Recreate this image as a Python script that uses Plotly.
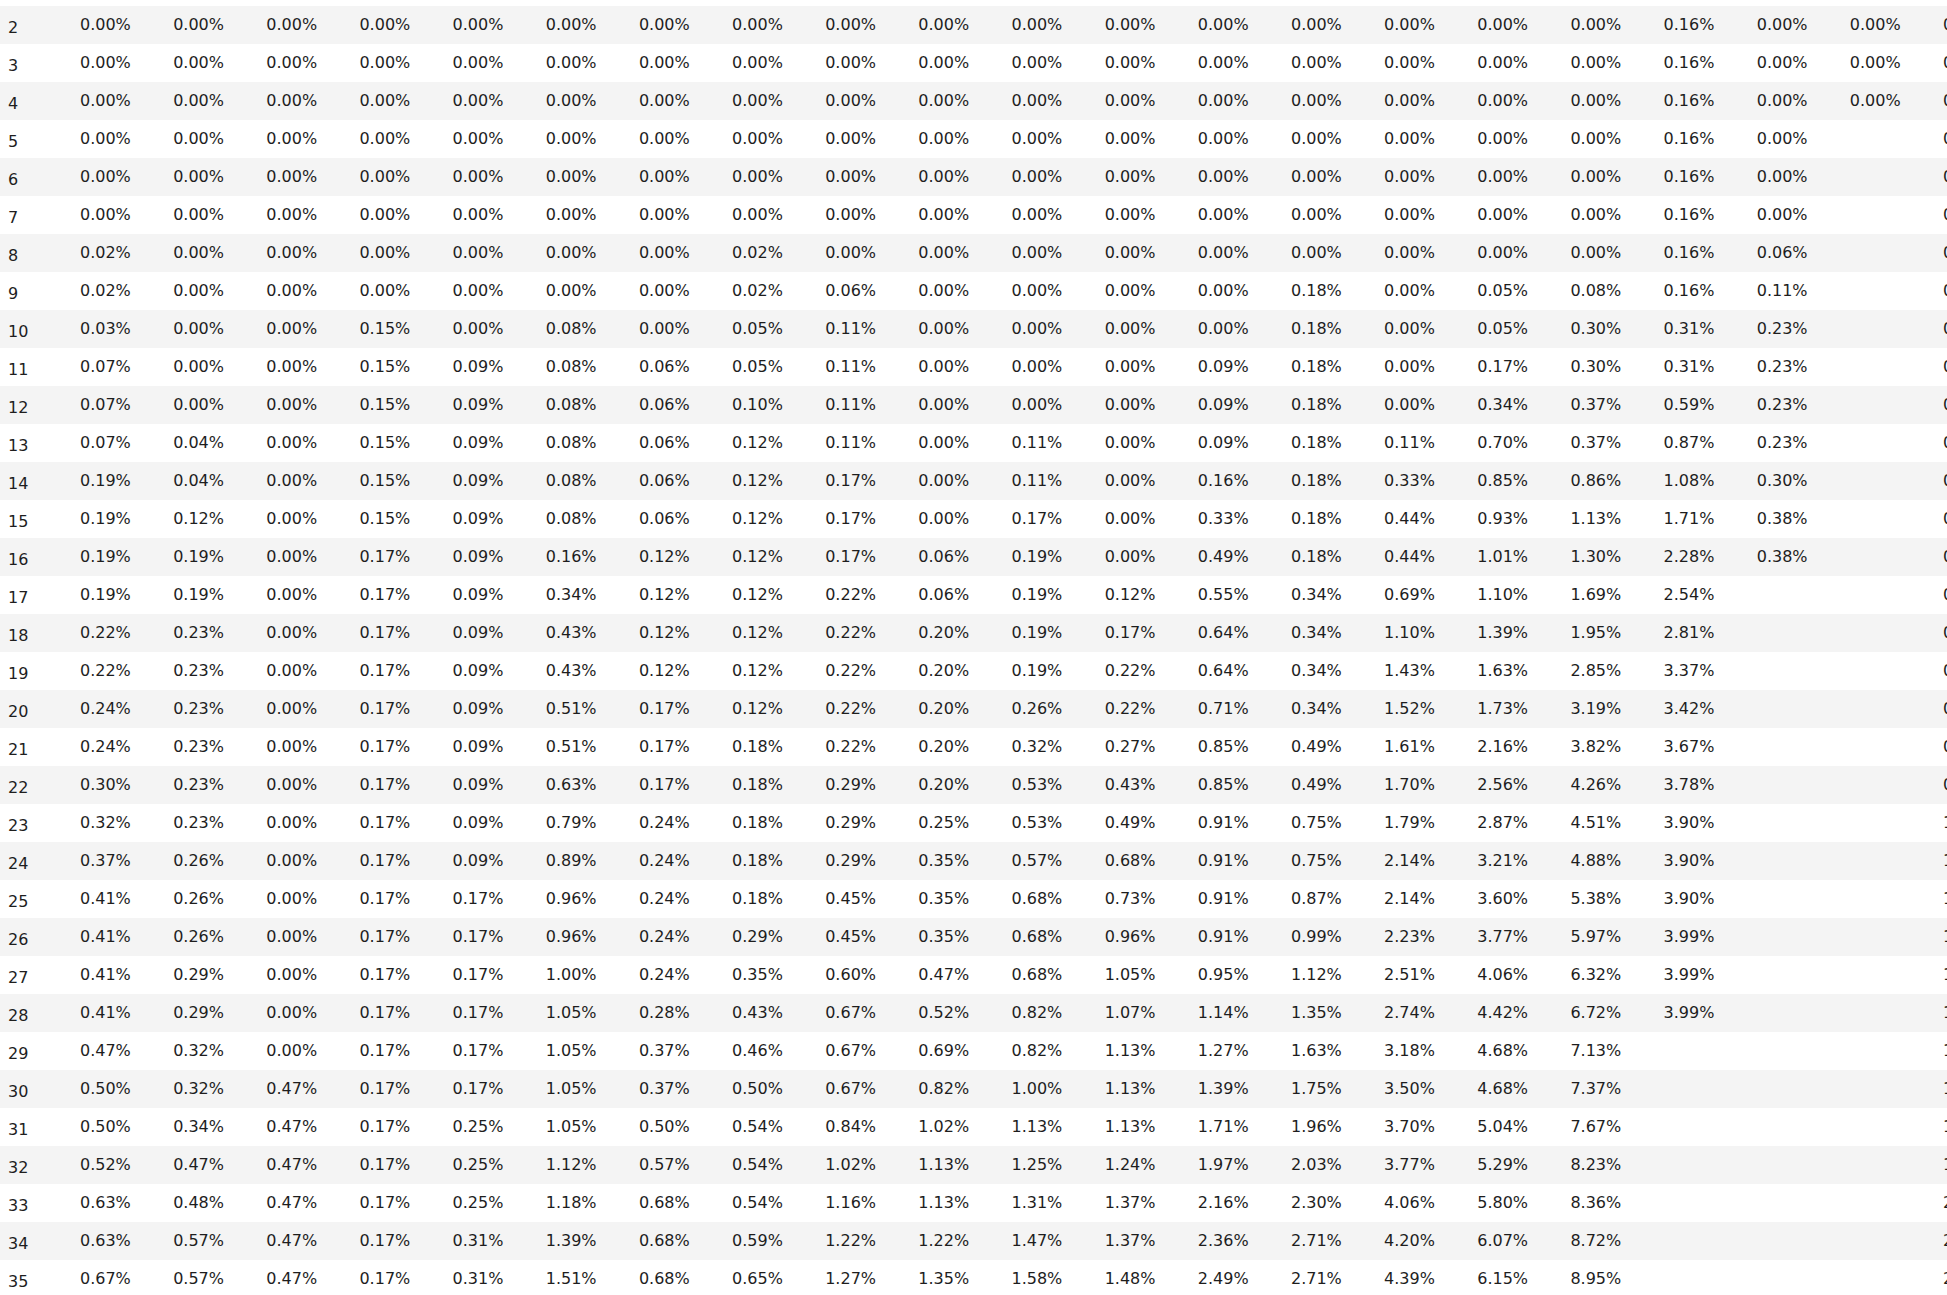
import plotly.graph_objects as go

# Row labels (week index)
row_labels = list(range(2, 36))

# Cumulative rate columns (percent values), None = empty cell
col_01 = [0, 0, 0, 0, 0, 0, 0.02, 0.02, 0.03, 0.07, 0.07, 0.07, 0.19, 0.19, 0.19, 0.19, 0.22, 0.22,
          0.24, 0.24, 0.30, 0.32, 0.37, 0.41, 0.41, 0.41, 0.41, 0.47, 0.50, 0.50, 0.52, 0.63, 0.63, 0.67]
col_02 = [0, 0, 0, 0, 0, 0, 0, 0, 0, 0, 0, 0.04, 0.04, 0.12, 0.19, 0.19, 0.23, 0.23,
          0.23, 0.23, 0.23, 0.23, 0.26, 0.26, 0.26, 0.29, 0.29, 0.32, 0.32, 0.34, 0.47, 0.48, 0.57, 0.57]
col_03 = [0] * 28 + [0.47] * 6
col_04 = [0] * 8 + [0.15] * 6 + [0.17] * 20
col_05 = [0] * 9 + [0.09] * 14 + [0.17] * 6 + [0.25] * 3 + [0.31] * 2
col_06 = [0] * 8 + [0.08] * 6 + [0.16, 0.34, 0.43, 0.43, 0.51, 0.51, 0.63, 0.79, 0.89, 0.96, 0.96,
                                 1.00, 1.05, 1.05, 1.05, 1.05, 1.12, 1.18, 1.39, 1.51]
col_07 = [0] * 9 + [0.06] * 5 + [0.12] * 4 + [0.17] * 3 + [0.24] * 5 + [0.28, 0.37, 0.37, 0.50, 0.57,
                                                                       0.68, 0.68, 0.68]
col_08 = [0] * 6 + [0.02, 0.02, 0.05, 0.05, 0.10] + [0.12] * 8 + [0.18] * 5 + [0.29, 0.35, 0.43, 0.46,
                                                                              0.50, 0.54, 0.54, 0.54,
                                                                              0.59, 0.65]
col_09 = [0] * 7 + [0.06] + [0.11] * 4 + [0.17] * 3 + [0.22] * 5 + [0.29] * 3 + [0.45, 0.45, 0.60, 0.67,
                                                                                0.67, 0.67, 0.84, 1.02,
                                                                                1.16, 1.22, 1.27]
col_10 = [0] * 14 + [0.06, 0.06] + [0.20] * 5 + [0.25, 0.35, 0.35, 0.35, 0.47, 0.52, 0.69, 0.82, 1.02,
                                                 1.13, 1.13, 1.22, 1.35]
col_11 = [0] * 11 + [0.11, 0.11, 0.17, 0.19, 0.19, 0.19, 0.19, 0.26, 0.32, 0.53, 0.53, 0.57, 0.68,
                     0.68, 0.68, 0.82, 0.82, 1.00, 1.13, 1.25, 1.31, 1.47, 1.58]
col_12 = [0] * 15 + [0.12, 0.17, 0.22, 0.22, 0.27, 0.43, 0.49, 0.68, 0.73, 0.96, 1.05, 1.07, 1.13,
                     1.13, 1.13, 1.24, 1.37, 1.37, 1.48]
col_13 = [0] * 9 + [0.09, 0.09, 0.09, 0.16, 0.33, 0.49, 0.55, 0.64, 0.64, 0.71, 0.85, 0.85, 0.91, 0.91,
                    0.91, 0.91, 0.95, 1.14, 1.27, 1.39, 1.71, 1.97, 2.16, 2.36, 2.49]
col_14 = [0] * 7 + [0.18] * 8 + [0.34] * 4 + [0.49] * 2 + [0.75] * 2 + [0.87, 0.99, 1.12, 1.35, 1.63,
                                                                       1.75, 1.96, 2.03, 2.30, 2.71,
                                                                       2.71]
col_15 = [0] * 11 + [0.11, 0.33, 0.44, 0.44, 0.69, 1.10, 1.43, 1.52, 1.61, 1.70, 1.79, 2.14, 2.14,
                     2.23, 2.51, 2.74, 3.18, 3.50, 3.70, 3.77, 4.06, 4.20, 4.39]
col_16 = [0] * 7 + [0.05, 0.05, 0.17, 0.34, 0.70, 0.85, 0.93, 1.01, 1.10, 1.39, 1.63, 1.73, 2.16, 2.56,
                    2.87, 3.21, 3.60, 3.77, 4.06, 4.42, 4.68, 4.68, 5.04, 5.29, 5.80, 6.07, 6.15]
col_17 = [0] * 7 + [0.08, 0.30, 0.30, 0.37, 0.37, 0.86, 1.13, 1.30, 1.69, 1.95, 2.85, 3.19, 3.82, 4.26,
                    4.51, 4.88, 5.38, 5.97, 6.32, 6.72, 7.13, 7.37, 7.67, 8.23, 8.36, 8.72, 8.95]
col_18 = [0.16] * 8 + [0.31, 0.31, 0.59, 0.87, 1.08, 1.71, 2.28, 2.54, 2.81, 3.37, 3.42, 3.67, 3.78,
                       3.90, 3.90, 3.90, 3.99, 3.99, 3.99] + [None] * 7
col_19 = [0] * 6 + [0.06, 0.11] + [0.23] * 4 + [0.30, 0.38, 0.38] + [None] * 19
col_20 = [0] * 3 + [None] * 31
# Partially visible column (only its first digit shows at the right edge) - estimated
col_21 = [0, 0, 0, 0, 0, 0, 0, 0.05, 0.12, 0.18, 0.25, 0.31, 0.38, 0.44, 0.50, 0.57, 0.63, 0.70,
          0.78, 0.85, 0.93, 1.02, 1.10, 1.19, 1.28, 1.37, 1.46, 1.55, 1.66, 1.77, 1.89, 2.01, 2.14, 2.27]

value_columns = [col_01, col_02, col_03, col_04, col_05, col_06, col_07, col_08, col_09, col_10,
                 col_11, col_12, col_13, col_14, col_15, col_16, col_17, col_18, col_19, col_20,
                 col_21]


def fmt(v):
    return "" if v is None else f"{v:.2f}%"


index_text = [str(r) for r in row_labels]
value_text = [[fmt(v) for v in col] for col in value_columns]

n_rows = len(row_labels)
n_cols = len(value_columns) + 1
row_fill = ["#f4f4f4" if i % 2 == 0 else "#ffffff" for i in range(n_rows)]
col_widths = [72] + [93.17] * 20 + [12]
W, H = 1947, 1295
ROW_H = 38
HEAD_H = 6
CLEAR = "rgba(0,0,0,0)"
FONT = dict(family="DejaVu Sans", size=16, color="#1e1e1e")


def blank_header(h, ncols):
    return dict(values=[""] * ncols, height=h, fill_color=CLEAR,
                line=dict(width=0, color=CLEAR), font=dict(size=1, color=CLEAR))


fig = go.Figure()

# Layer 1: zebra row bands
fig.add_trace(go.Table(
    columnwidth=col_widths,
    header=blank_header(HEAD_H, n_cols),
    cells=dict(
        values=[[""] * n_rows for _ in range(n_cols)],
        height=ROW_H,
        fill_color=[row_fill] * n_cols,
        line=dict(width=1, color=[row_fill] * n_cols),
        font=FONT,
    ),
    domain=dict(x=[0, 1], y=[0, 1]),
))

# Layer 2: value text (vertically centred in the bands)
fig.add_trace(go.Table(
    columnwidth=col_widths,
    header=blank_header(HEAD_H + 4, n_cols),
    cells=dict(
        values=[[""] * n_rows] + value_text,
        height=ROW_H,
        align="left",
        fill_color=CLEAR,
        line=dict(width=0, color=CLEAR),
        font=FONT,
    ),
    domain=dict(x=[0, 1], y=[0, 1]),
))

# Layer 3: row index labels
fig.add_trace(go.Table(
    columnwidth=[72],
    header=blank_header(HEAD_H + 7, 1),
    cells=dict(
        values=[index_text],
        height=ROW_H,
        align="left",
        fill_color=CLEAR,
        line=dict(width=0, color=CLEAR),
        font=FONT,
    ),
    domain=dict(x=[0, 72 / W], y=[0, 1]),
))

fig.update_layout(
    width=W,
    height=H,
    margin=dict(l=0, r=0, t=0, b=0),
    paper_bgcolor="#ffffff",
    plot_bgcolor="#ffffff",
)

fig.write_html("out.html", config={"displayModeBar": False},
               post_script="document.body.style.margin='0';")
